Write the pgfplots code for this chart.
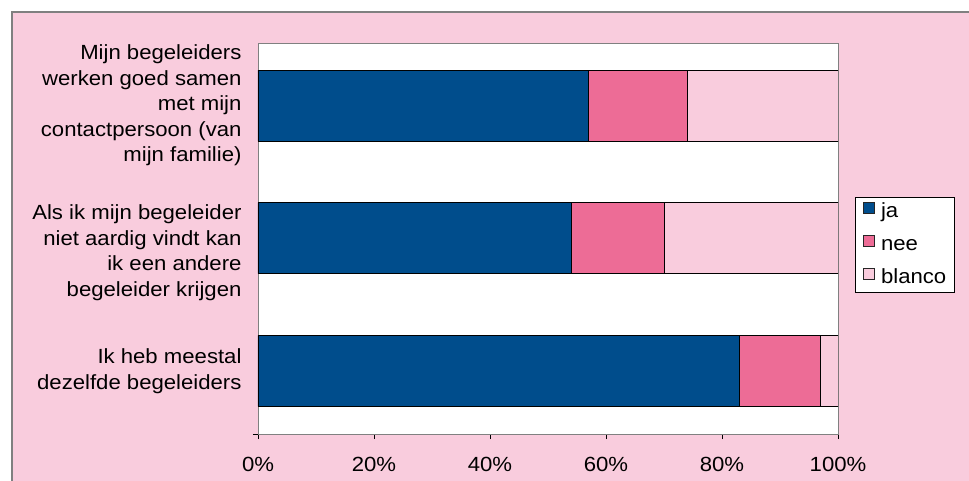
\documentclass[border=0pt]{standalone}
\usepackage{pgfplots}
\usepackage{pgfplotstable}
\pgfplotsset{compat=1.18}
\usepackage{fontspec}
\setmainfont{Liberation Sans}[FakeStretch=1.08]

\definecolor{bgpink}{RGB}{249,204,221}
\definecolor{jablue}{RGB}{0,77,140}
\definecolor{neepink}{RGB}{237,108,150}
\definecolor{framegray}{RGB}{128,128,128}

% percentages per statement: ja / nee / blanco
\pgfplotstableread{
idx ja nee blanco
0 57 17 26
1 54 16 30
2 83 14 3
}\antwoorden

\begin{document}
\begin{tikzpicture}[x=1pt,y=1pt]
\path[use as bounding box] (0,0) rectangle (969,481);
\clip (0,0) rectangle (969,481);
\fill[white] (0,0) rectangle (969,481);
% chart area
\draw[framegray, line width=1.5pt, fill=bgpink] (12,-10) rectangle (990,469);
\begin{axis}[
  at={(258pt,47pt)}, anchor=south west,
  scale only axis, width=580pt, height=391pt,
  xbar stacked, bar width=71pt,
  xmin=0, xmax=100,
  ymin=-0.471, ymax=2.475, y dir=reverse,
  axis background/.style={fill=white},
  axis line style={framegray, line width=0.8pt},
  xtick pos=bottom, ytick pos=left,
  xtick={0,20,40,60,80,100},
  xticklabels={0\%,20\%,40\%,60\%,80\%,100\%},
  tick align=outside,
  major tick length=5pt,
  xtick style={black, line width=0.6pt},
  x tick label style={anchor=base, inner sep=0pt, yshift=-32.3pt,
    font=\fontsize{20.5}{26}\selectfont},
  ytick={0,1,2},
  yticklabels={
    {Mijn begeleiders\\werken goed samen\\met mijn\\contactpersoon (van\\mijn familie)},
    {\strut\\Als ik mijn begeleider\\niet aardig vindt kan\\ik een andere\\begeleider krijgen},
    {Ik heb meestal\\dezelfde begeleiders}},
  ytick style={draw=none},
  y tick label style={align=right, inner sep=0pt, xshift=-11.3pt,
    font=\fontsize{20.5}{25.5}\selectfont},
  extra y ticks={2.475},
  extra y tick labels={},
  extra y tick style={ytick style={draw=black, line width=0.6pt}},
  legend cell align=left,
  legend style={at={(axis description cs:1.029,0.606)}, anchor=north west,
    draw=black, line width=0.8pt, fill=white,
    font=\fontsize{20.5}{22}\selectfont,
    inner xsep=8pt, inner ysep=5pt, row sep=14pt, column sep=6pt,
    nodes={inner sep=0pt, text height=14pt, text depth=4pt}},
  legend image code/.code={\draw[#1, draw=black!85, line width=0.8pt]
    (0pt,-1.5pt) rectangle (11pt,9.5pt);},
]
\addplot[fill=jablue, draw=black, line width=0.8pt] table[x=ja, y=idx] {\antwoorden};
\addplot[fill=neepink, draw=black, line width=0.8pt] table[x=nee, y=idx] {\antwoorden};
\addplot[fill=bgpink, draw=black, line width=0.8pt] table[x=blanco, y=idx] {\antwoorden};
\legend{ja, nee, blanco}
\end{axis}
\end{tikzpicture}
\end{document}
